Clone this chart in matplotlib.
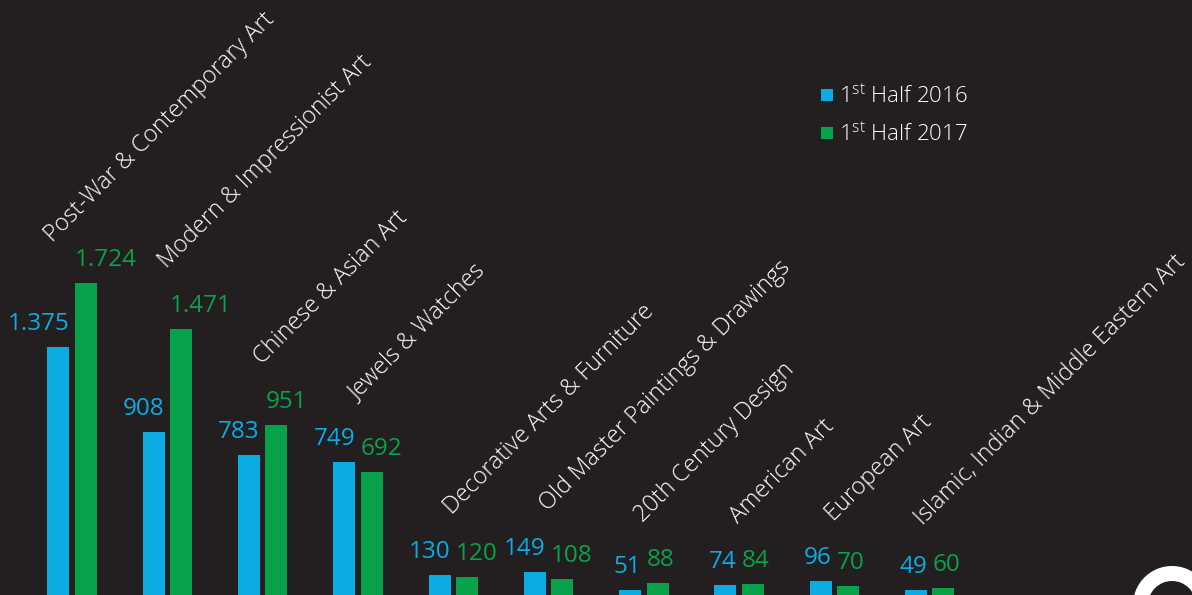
import matplotlib
matplotlib.use("Agg")
import matplotlib.pyplot as plt
from matplotlib.patches import Rectangle, Wedge
import numpy as np

# Auction sales by category, first half of the year (millions)
categories = [
    "Post-War & Contemporary Art",
    "Modern & Impressionist Art",
    "Chinese & Asian Art",
    "Jewels & Watches",
    "Decorative Arts & Furniture",
    "Old Master Paintings & Drawings",
    "20th Century Design",
    "American Art",
    "European Art",
    "Islamic, Indian & Middle Eastern Art",
]
half_2016 = [1375, 908, 783, 749, 130, 149, 51, 74, 96, 49]
half_2017 = [1724, 1471, 951, 692, 120, 108, 88, 84, 70, 60]
label_2016 = ["1.375", "908", "783", "749", "130", "149", "51", "74", "96", "49"]
label_2017 = ["1.724", "1.471", "951", "692", "120", "108", "88", "84", "70", "60"]
series_names = ["1$^{\\mathregular{st}}$ Half 2016", "1$^{\\mathregular{st}}$ Half 2017"]

BG = "#231F20"
BLUE = "#0BACE4"
GREEN = "#08A24B"

plt.rcParams["font.family"] = ["Open Sans", "DejaVu Sans"]
plt.rcParams["font.weight"] = "light"
plt.rcParams["mathtext.fontset"] = "custom"
plt.rcParams["mathtext.rm"] = "Open Sans:light"

W, H = 1192, 595
fig = plt.figure(figsize=(W / 100, H / 100), dpi=100, facecolor=BG)
ax = fig.add_axes([0, 0, 1, 1])
ax.set_facecolor(BG)
ax.axis("off")

# pixel based scales: group pitch 95.3 px, 0.1834 px per unit, baseline just under the frame
pitch = 95.3
ppu = 0.1834
ax.set_xlim(-72 / pitch, (W - 72) / pitch)
ax.set_ylim(4 / ppu, 599 / ppu)

x = np.arange(len(categories))
bw = 22 / pitch
off = 13.7 / pitch

ax.bar(x - off, half_2016, width=bw, color=BLUE, linewidth=0)
ax.bar(x + off, half_2017, width=bw, color=GREEN, linewidth=0)

for i in range(len(categories)):
    ax.annotate(label_2016[i], (x[i] - off + bw / 2, half_2016[i]),
                xytext=(0, 17), textcoords="offset pixels", fontweight="normal",
                ha="right", va="baseline", color=BLUE, fontsize=17.5)
    ax.annotate(label_2017[i], (x[i] + off - bw / 2, half_2017[i]),
                xytext=(0, 17), textcoords="offset pixels", fontweight="normal",
                ha="left", va="baseline", color=GREEN, fontsize=17.5)

# category names sit diagonally above each pair
nudge = {0: (-18, -20), 9: (-6, 2)}
for i, name in enumerate(categories):
    dx, dy = nudge.get(i, (0, 0))
    top = max(half_2016[i], half_2017[i])
    ax.annotate(name, (x[i], top), xytext=(-1 + dx, 60 + dy),
                textcoords="offset pixels", rotation=45, rotation_mode="anchor",
                ha="left", va="baseline", color="white", fontsize=16.8)

# legend drawn by hand
def fx(px):
    return px / W

def fy(py):
    return 1 - py / H

for j, (name, col) in enumerate(zip(series_names, [BLUE, GREEN])):
    y0 = 89 + j * 38
    fig.add_artist(Rectangle((fx(821), fy(y0 + 12)), 12 / W, 12 / H,
                             transform=fig.transFigure, color=col, linewidth=0))
    fig.text(fx(839), fy(y0 + 13), name, color="white", fontsize=16,
             ha="left", va="baseline")

# logo ring cut by the bottom right corner
fig.add_artist(Wedge((11.72, -0.10), 0.39, 0, 360, width=0.15,
                     transform=fig.dpi_scale_trans, color="white", linewidth=0))

fig.savefig("out.png", dpi=100, facecolor=BG)
